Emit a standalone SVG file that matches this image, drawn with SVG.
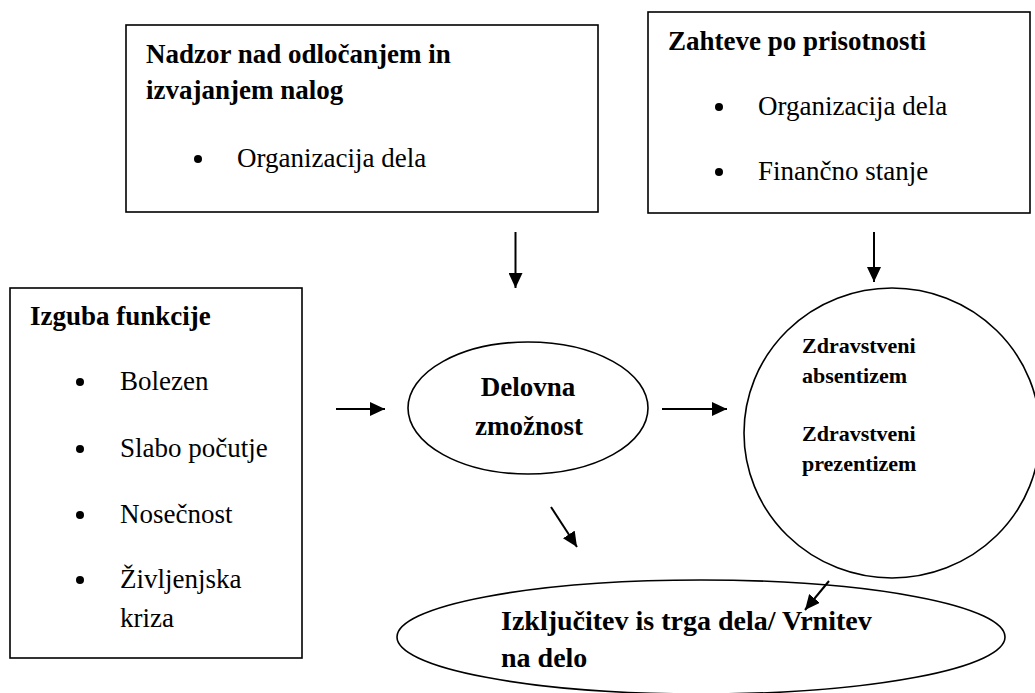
<svg xmlns="http://www.w3.org/2000/svg" width="1035" height="693" viewBox="0 0 1035 693">
<style>
.box{fill:#fff;stroke:#000;stroke-width:1.6}
text{font-family:"Liberation Serif","Times New Roman",serif;fill:#000}
.t{font-size:27px}
.b{font-weight:bold}
.s{font-size:22px;font-weight:bold}
.l{font-size:28px;font-weight:bold}
.c{stroke:#000;stroke-width:2;fill:none;marker-end:url(#ah)}
</style>
<defs>
<marker id="ah" markerWidth="15" markerHeight="14" refX="15" refY="7" orient="auto" markerUnits="userSpaceOnUse" viewBox="0 0 15 14">
<path d="M0,0 L15,7 L0,14 Z" fill="#000"/>
</marker>
</defs>
<rect width="1035" height="693" fill="#fff"/>
<g id="nadzor">
<rect class="box" x="126" y="25" width="472" height="187"/>
<text class="t b" x="146" y="63">Nadzor nad odločanjem in</text>
<text class="t b" x="146" y="99">izvajanjem nalog</text>
<circle cx="198" cy="159" r="4"/>
<text class="t" x="237" y="167">Organizacija dela</text>
</g>
<g id="zahteve">
<rect class="box" x="648" y="12" width="382" height="201"/>
<text class="t b" x="668" y="50">Zahteve po prisotnosti</text>
<circle cx="719" cy="107" r="4"/>
<text class="t" x="758" y="115">Organizacija dela</text>
<circle cx="719" cy="172" r="4"/>
<text class="t" x="758" y="180">Finančno stanje</text>
</g>
<g id="izguba">
<rect class="box" x="10" y="288" width="292" height="370"/>
<text class="t b" x="30" y="325">Izguba funkcije</text>
<circle cx="80" cy="382" r="4"/>
<text class="t" x="120" y="390">Bolezen</text>
<circle cx="80" cy="449" r="4"/>
<text class="t" x="120" y="457">Slabo počutje</text>
<circle cx="80" cy="515" r="4"/>
<text class="t" x="120" y="523">Nosečnost</text>
<circle cx="80" cy="580" r="4"/>
<text class="t" x="120" y="588">Življenjska</text>
<text class="t" x="120" y="627">kriza</text>
</g>
<g id="delovna">
<ellipse class="box" cx="528" cy="408" rx="120" ry="66"/>
<text class="t b" x="528" y="396" text-anchor="middle">Delovna</text>
<text class="t b" x="529" y="435" text-anchor="middle">zmožnost</text>
</g>
<g id="zdravstveni">
<ellipse class="box" cx="892" cy="433" rx="148" ry="145"/>
<text class="s" x="802" y="353">Zdravstveni</text>
<text class="s" x="802" y="383">absentizem</text>
<text class="s" x="802" y="441">Zdravstveni</text>
<text class="s" x="802" y="471">prezentizem</text>
</g>
<g id="izkljucitev">
<ellipse class="box" cx="701" cy="637" rx="304" ry="57"/>
<text class="l" x="501" y="630">Izključitev is trga dela/ Vrnitev</text>
<text class="l" x="501" y="667">na delo</text>
</g>
<g id="connectors">
<line class="c" x1="515.5" y1="232" x2="515.5" y2="288"/>
<line class="c" x1="874" y1="232" x2="874" y2="282"/>
<line class="c" x1="336" y1="409" x2="385" y2="409"/>
<line class="c" x1="662" y1="409" x2="727" y2="409"/>
<line class="c" x1="551" y1="507" x2="577" y2="547"/>
<line class="c" x1="829" y1="581" x2="805" y2="610"/>
</g>
</svg>
